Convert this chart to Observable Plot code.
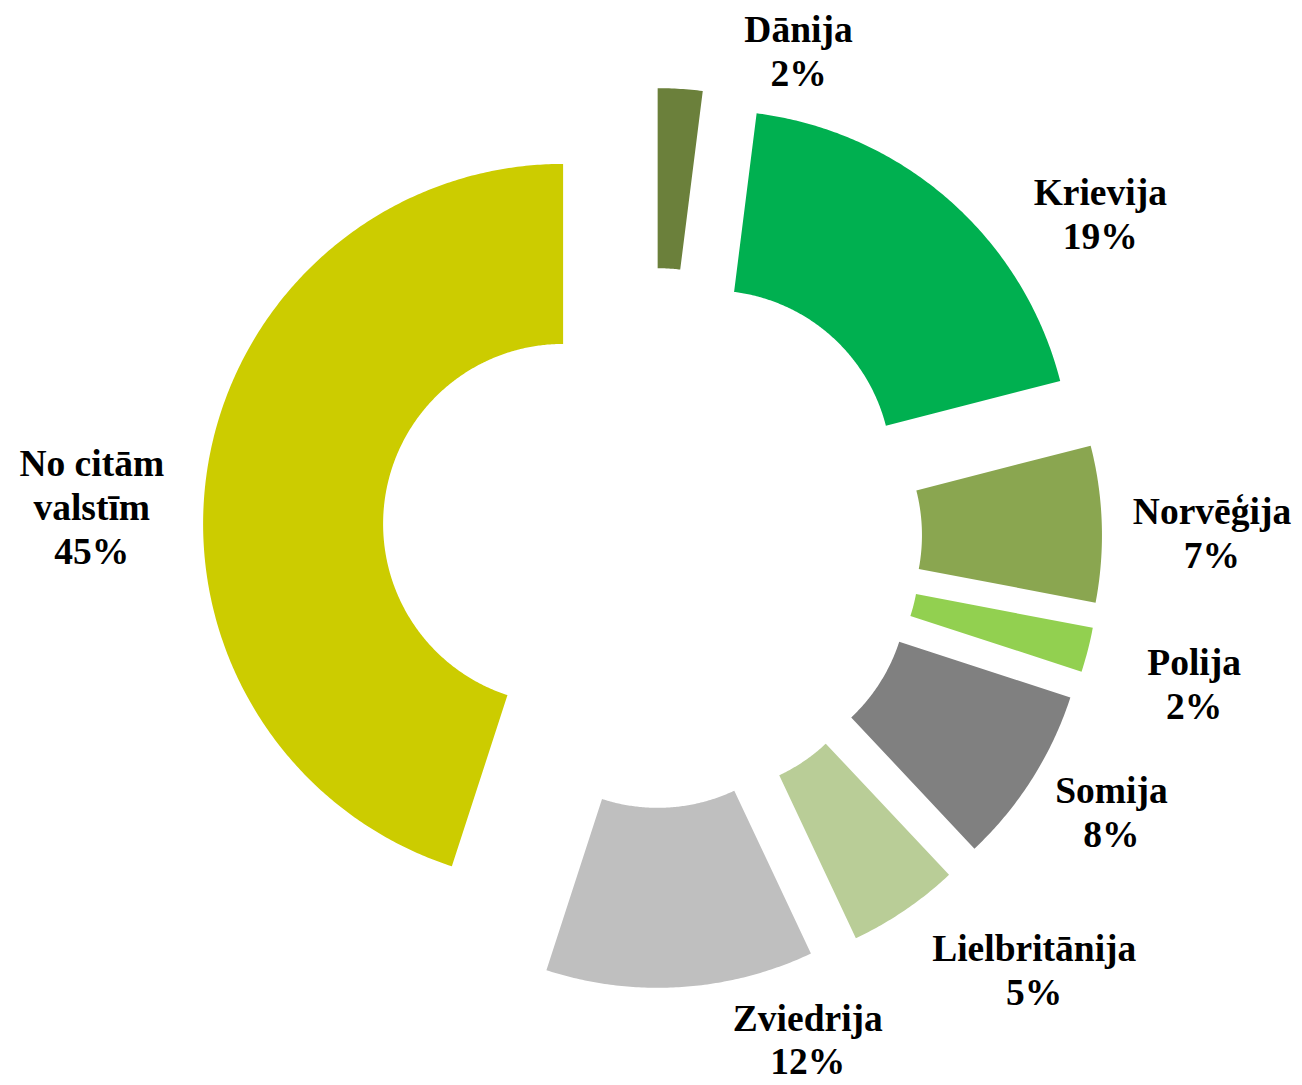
<!DOCTYPE html>
<html lang="lv">
<head>
<meta charset="utf-8">
<title>Imports pa valstīm</title>
<script src="https://cdn.jsdelivr.net/npm/d3@7"></script>
<script src="https://cdn.jsdelivr.net/npm/@observablehq/plot@0.6"></script>
<style>
  html, body { margin: 0; padding: 0; background: #ffffff; overflow: hidden; }
  #chart svg { display: block; }
</style>
</head>
<body>
<div id="chart"></div>
<script>
// Shares by country of origin, percent (clockwise from 12 o'clock)
const countries = ["Dānija", "Krievija", "Norvēģija", "Polija", "Somija", "Lielbritānija", "Zviedrija", "No citām valstīm"];
const shares = [2, 19, 7, 2, 8, 5, 12, 45];
// Label text as printed (line breaks included)
const labelNames = ["Dānija", "Krievija", "Norvēģija", "Polija", "Somija", "Lielbritānija", "Zviedrija", "No citām\nvalstīm"];
// Slice colours
const sliceColors = ["#6b803b", "#00b050", "#8aa650", "#92d050", "#808080", "#b9cd97", "#bfbfbf", "#cccc00"];

// Layout
const W = 1302, H = 1085;
const cx = 651.5, cy = 537.5;      // centre of the ring
const outerR = 360, innerR = 180;  // ring radii
const explode = 90;                // every slice pulled out along its bisector
// Label anchors, polar around the centre (degrees clockwise from top, radius)
const labelAngle = [16.8, 54.3, 89.7, 105.3, 121.0, 138.6, 162.8, 273.0];
const labelRadius = [507, 552, 560, 562, 536, 578, 527, 561];
const labelLift = 3;               // small upward nudge for all labels

const deg = Math.PI / 180;
const arcs = d3.pie().sort(null).value(d => d)(shares);

// Outline of each exploded ring segment: outer arc forward, inner arc back
const ring = [];
arcs.forEach((a, i) => {
  const mid = (a.startAngle + a.endAngle) / 2;
  const ox = cx + explode * Math.sin(mid);
  const oy = cy - explode * Math.cos(mid);
  const steps = Math.max(12, Math.ceil((a.endAngle - a.startAngle) / 0.008));
  for (let k = 0; k <= steps; ++k) {
    const t = a.startAngle + (a.endAngle - a.startAngle) * k / steps;
    ring.push({country: countries[i], x: ox + outerR * Math.sin(t), y: oy - outerR * Math.cos(t)});
  }
  for (let k = steps; k >= 0; --k) {
    const t = a.startAngle + (a.endAngle - a.startAngle) * k / steps;
    ring.push({country: countries[i], x: ox + innerR * Math.sin(t), y: oy - innerR * Math.cos(t)});
  }
});

const labels = countries.map((c, i) => ({
  country: c,
  text: `${labelNames[i]}\n${shares[i]}%`,
  x: cx + labelRadius[i] * Math.sin(labelAngle[i] * deg),
  y: cy - labelRadius[i] * Math.cos(labelAngle[i] * deg) - labelLift
}));

const chart = Plot.plot({
  width: W,
  height: H,
  margin: 0,
  style: {background: "#ffffff"},
  x: {domain: [0, W], range: [0, W], axis: null},
  y: {domain: [0, H], range: [0, H], axis: null},
  color: {domain: countries, range: sliceColors},
  marks: [
    Plot.line(ring, {
      x: "x", y: "y", z: "country",
      fill: "country", stroke: "none",
      curve: "linear-closed"
    }),
    Plot.text(labels, {
      x: "x", y: "y", text: "text",
      fill: "#000000",
      fontSize: 37.5,
      fontWeight: "bold",
      fontFamily: "'Liberation Serif', 'Times New Roman', serif",
      lineHeight: 1.17,
      textAnchor: "middle"
    })
  ]
});

document.getElementById("chart").appendChild(chart);
</script>
</body>
</html>
